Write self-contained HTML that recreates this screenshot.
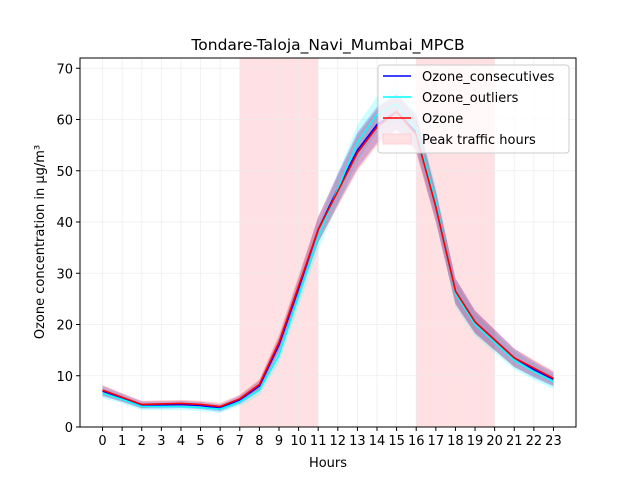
<!DOCTYPE html>
<html><head><meta charset="utf-8"><style>
body{margin:0;background:#fff;font-family:"Liberation Sans","DejaVu Sans",sans-serif}
svg text{font-family:"DejaVu Sans","Liberation Sans",sans-serif}
</style></head><body>
<svg id="c" width="640" height="480" xmlns="http://www.w3.org/2000/svg"></svg>
<script>
const hours=[0,1,2,3,4,5,6,7,8,9,10,11,12,13,14,15,16,17,18,19,20,21,22,23];
const ozone=[7.2,5.8,4.4,4.5,4.6,4.4,4.0,5.5,8.3,16.5,27.5,38.5,46,53.5,58.5,61.5,57,43,26.5,20.5,17,13.5,11.5,9.5];
const ozoneConsec=[7.0,5.7,4.3,4.3,4.4,4.2,3.7,5.3,8.0,16.0,27.0,38.5,46.5,54,59,61.5,57.5,43,26.5,20.5,17,13.5,11.2,9.3];
const ozoneOutliers=[6.6,5.4,4.0,4.0,4.0,3.8,3.5,4.9,7.2,14.0,25.5,37.0,46.5,55.5,61.0,63.0,58.0,44,26.0,20.0,16.5,13.0,10.8,8.8];
const bandWidth=[1.0,0.8,0.7,0.7,0.7,0.7,0.7,0.8,1.0,1.5,2,2.5,3,3.5,3.5,3.5,3.5,3,2.5,2.2,2,1.8,1.6,1.4];
const yTicks=[0,10,20,30,40,50,60,70];
const peaks=[[7,11],[16,20]];
const L=80,R=576,T=58,B=427,xmin=-1.15,xmax=24.15,ymin=0,ymax=72;
const X=v=>L+(v-xmin)/(xmax-xmin)*(R-L), Y=v=>B-(v-ymin)/(ymax-ymin)*(B-T);
const svg=document.getElementById('c');const NS='http://www.w3.org/2000/svg';
function el(t,a,p){const e=document.createElementNS(NS,t);for(const k in a)e.setAttribute(k,a[k]);(p||svg).appendChild(e);return e;}
peaks.forEach(p=>{const r=el('rect',{x:X(p[0]),y:T,width:X(p[1])-X(p[0]),height:B-T,fill:'#ffe0e3'});

});
hours.forEach(h=>{const l=el('line',{x1:X(h),x2:X(h),y1:T,y2:B,stroke:'#ebebeb','stroke-width':0.8,opacity:0.8});

});
yTicks.forEach(v=>{const l=el('line',{x1:L,x2:R,y1:Y(v),y2:Y(v),stroke:'#ebebeb','stroke-width':0.8,opacity:0.8});

});
function band(s,c,o,name){let d='';hours.forEach((h,i)=>{d+=(i?'L':'M')+X(h)+','+Y(s[i]+bandWidth[i]);});
for(let i=hours.length-1;i>=0;i--)d+='L'+X(hours[i])+','+Y(s[i]-bandWidth[i]);
const p=el('path',{d:d+'Z',fill:c,opacity:o});

}
band(ozoneOutliers,'#00ffff',0.2,'outliers-band');
band(ozoneConsec,'#0000ff',0.2,'consecutives-band');
band(ozone,'#ff0000',0.2,'ozone-band');
function line(s,c,name){const p=el('polyline',{points:hours.map((h,i)=>X(h)+','+Y(s[i])).join(' '),fill:'none',stroke:c,'stroke-width':1.6});

}
line(ozoneConsec,'#0000ff','ozone-consecutives-line');
line(ozoneOutliers,'#00ffff','ozone-outliers-line');
line(ozone,'#ff0000','ozone-line');
const fr=el('rect',{x:L,y:T,width:R-L,height:B-T,fill:'none',stroke:'#000','stroke-width':1});


hours.forEach(h=>{el('line',{x1:X(h),x2:X(h),y1:B,y2:B+4,stroke:'#000'});
const t=el('text',{x:X(h),y:B+18,'text-anchor':'middle','font-size':13});t.textContent=h;

});
yTicks.forEach(v=>{el('line',{x1:L-4,x2:L,y1:Y(v),y2:Y(v),stroke:'#000'});
const t=el('text',{x:L-7,y:Y(v)+5,'text-anchor':'end','font-size':13});t.textContent=v;

});
</script>
<svg width="640" height="480" style="position:absolute;left:0;top:0" xmlns="http://www.w3.org/2000/svg">
<text x="328" y="50" text-anchor="middle" font-size="15.5">Tondare-Taloja_Navi_Mumbai_MPCB</text>
<text x="328" y="467" text-anchor="middle" font-size="13">Hours</text>
<text transform="translate(44,242) rotate(-90)" text-anchor="middle" font-size="13">Ozone concentration in µg/m³</text>
<g font-size="13">
<rect x="378" y="65" width="191" height="88" rx="3" fill="#fff" fill-opacity="0.8" stroke="#ccc"/>
<line x1="383" x2="411" y1="76" y2="76" stroke="#0000ff" stroke-width="1.6"/>
<text x="422" y="81">Ozone_consecutives</text>
<line x1="383" x2="411" y1="97" y2="97" stroke="#00ffff" stroke-width="1.6"/>
<text x="422" y="102">Ozone_outliers</text>
<line x1="383" x2="411" y1="118" y2="118" stroke="#ff0000" stroke-width="1.6"/>
<text x="422" y="123">Ozone</text>
<rect x="383" y="134" width="28" height="10" fill="#ffe0e3" stroke="#ffd0d5"/>
<text x="422" y="144">Peak traffic hours</text>
</g>
</svg>
</body></html>
